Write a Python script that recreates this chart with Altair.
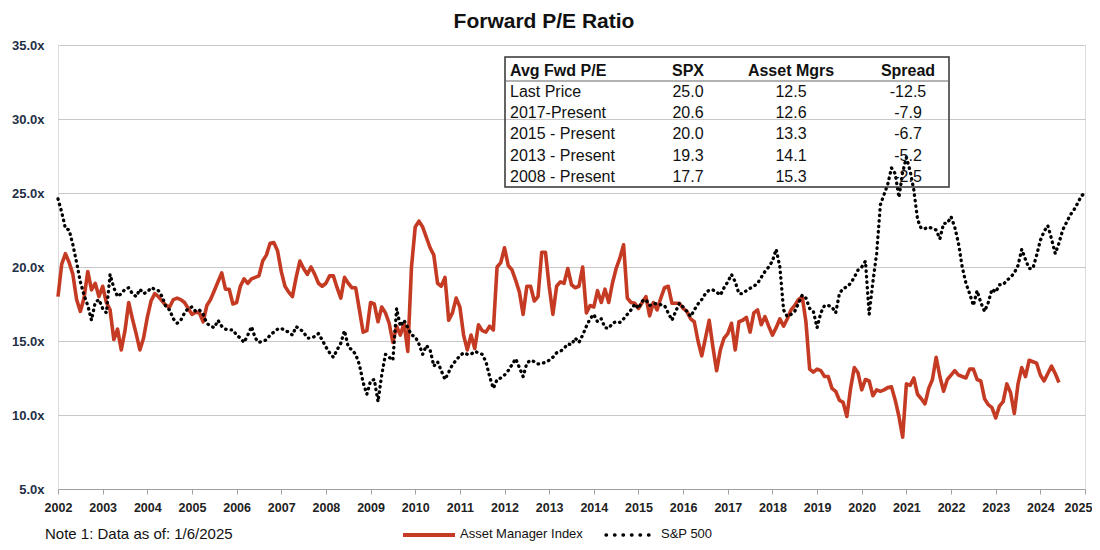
import altair as alt
import pandas as pd

# ---------------- data (monthly) ----------------
first_year = 2002

asset_mgr_2002 = [18.0, 20.2, 20.9, 20.3, 19.5, 17.8, 17.0, 17.9, 19.7, 18.45, 18.9, 18.0]
asset_mgr_2003 = [18.7, 17.6, 17.1, 15.1, 15.8, 14.4, 15.7, 17.6, 16.5, 15.5, 14.4, 15.2]
asset_mgr_2004 = [16.6, 17.7, 18.2, 18.0, 17.7, 17.4, 17.3, 17.8, 17.9, 17.8, 17.6, 17.2]
asset_mgr_2005 = [16.8, 16.95, 16.9, 16.3, 17.4, 17.8, 18.4, 19.0, 19.6, 18.5, 18.5, 17.5]
asset_mgr_2006 = [17.6, 18.7, 19.2, 18.9, 19.2, 19.3, 19.4, 20.4, 20.8, 21.6, 21.65, 21.1]
asset_mgr_2007 = [19.7, 18.7, 18.3, 18.0, 19.3, 20.4, 19.9, 19.5, 20.0, 19.5, 18.9, 18.7]
asset_mgr_2008 = [18.9, 19.4, 19.4, 18.6, 17.9, 19.3, 18.9, 18.6, 18.6, 17.1, 15.6, 15.7]
asset_mgr_2009 = [17.6, 17.5, 16.3, 17.3, 16.9, 16.2, 14.9, 16.0, 15.4, 16.2, 14.3, 20.0]
asset_mgr_2010 = [22.7, 23.1, 22.7, 22.0, 21.3, 20.8, 18.9, 18.7, 19.3, 16.4, 16.9, 17.9]
asset_mgr_2011 = [17.3, 15.4, 14.4, 15.4, 14.5, 16.1, 15.7, 15.6, 16.0, 15.75, 20.0, 20.3]
asset_mgr_2012 = [21.3, 20.1, 19.8, 19.1, 18.3, 16.8, 18.7, 18.7, 17.7, 18.0, 21.0, 21.0]
asset_mgr_2013 = [18.7, 16.8, 18.7, 19.0, 18.9, 19.9, 18.8, 18.6, 18.7, 20.0, 16.9, 17.4]
asset_mgr_2014 = [17.3, 18.4, 17.6, 18.5, 17.6, 18.9, 19.9, 20.6, 21.5, 17.9, 17.6, 17.55]
asset_mgr_2015 = [17.2, 17.6, 18.0, 16.7, 17.6, 17.1, 17.9, 18.6, 18.7, 17.55, 17.55, 17.55]
asset_mgr_2016 = [17.2, 17.0, 16.5, 16.3, 15.0, 14.0, 15.2, 16.4, 14.6, 13.0, 14.4, 15.2]
asset_mgr_2017 = [15.5, 16.2, 14.4, 16.3, 16.4, 16.6, 15.6, 16.9, 17.1, 16.1, 16.65, 16.0]
asset_mgr_2018 = [15.4, 15.9, 16.5, 16.0, 16.5, 17.1, 17.4, 17.8, 18.0, 16.3, 13.1, 12.9]
asset_mgr_2019 = [13.1, 13.0, 12.6, 12.6, 11.8, 11.6, 11.0, 10.85, 9.9, 11.8, 13.2, 12.85]
asset_mgr_2020 = [11.7, 12.4, 12.3, 11.3, 11.7, 11.6, 11.7, 11.85, 11.9, 11.0, 9.9, 8.5]
asset_mgr_2021 = [12.1, 12.0, 12.5, 11.4, 11.1, 10.75, 11.8, 12.4, 13.9, 12.6, 11.6, 12.4]
asset_mgr_2022 = [12.7, 13.0, 12.7, 12.6, 12.5, 13.1, 13.1, 12.4, 12.3, 11.1, 10.7, 10.5]
asset_mgr_2023 = [9.8, 10.6, 10.9, 12.1, 11.5, 10.1, 12.1, 13.2, 12.6, 13.7, 13.6, 13.5]
asset_mgr_2024 = [12.7, 12.3, 12.8, 13.3, 12.8, 12.2]

spx_2002 = [24.6, 23.7, 22.6, 22.5, 21.5, 20.3, 19.0, 18.1, 17.4, 16.4, 17.6, 17.8]
spx_2003 = [17.2, 16.9, 19.5, 18.6, 18.0, 18.2, 18.5, 18.6, 18.2, 18.0, 18.5, 18.2]
spx_2004 = [18.3, 18.6, 18.5, 18.4, 18.0, 17.3, 17.1, 16.5, 16.2, 16.4, 16.9, 17.2]
spx_2005 = [17.3, 17.0, 17.1, 16.8, 16.2, 16.0, 15.9, 16.4, 16.0, 15.8, 15.75, 15.75]
spx_2006 = [15.4, 15.2, 14.9, 15.4, 15.97, 15.2, 14.9, 15.0, 15.07, 15.4, 15.6, 15.8]
spx_2007 = [15.86, 15.7, 15.6, 15.4, 15.97, 15.8, 15.6, 15.2, 15.2, 15.3, 15.5, 15.07]
spx_2008 = [14.6, 14.2, 13.9, 14.4, 14.85, 15.7, 14.6, 14.4, 14.1, 13.4, 12.2, 11.4]
spx_2009 = [12.3, 12.4, 10.9, 12.7, 14.1, 13.9, 13.7, 17.2, 16.0, 16.4, 15.9, 15.4]
spx_2010 = [15.3, 14.8, 14.1, 14.7, 14.4, 13.3, 13.6, 13.0, 12.4, 12.9, 13.4, 13.7]
spx_2011 = [14.0, 14.2, 14.1, 14.1, 14.3, 14.2, 14.1, 13.6, 12.6, 11.8, 12.4, 12.5]
spx_2012 = [12.7, 13.0, 13.4, 13.8, 13.2, 12.6, 13.5, 13.7, 13.6, 13.45, 13.5, 13.55]
spx_2013 = [13.7, 13.9, 14.2, 14.3, 14.5, 14.8, 14.75, 15.2, 14.9, 15.4, 16.0, 16.5]
spx_2014 = [16.8, 16.3, 16.5, 15.9, 15.85, 16.2, 16.3, 16.25, 16.5, 16.8, 17.1, 17.5]
spx_2015 = [17.2, 17.7, 17.8, 17.4, 17.5, 17.55, 17.45, 17.4, 16.9, 16.4, 17.0, 17.55]
spx_2016 = [17.3, 17.0, 16.65, 17.1, 17.5, 17.8, 18.2, 18.45, 18.45, 18.3, 18.1, 18.6]
spx_2017 = [19.0, 19.5, 19.0, 18.2, 18.2, 18.4, 18.56, 18.7, 18.9, 19.3, 19.7, 20.0]
spx_2018 = [20.4, 21.2, 20.0, 17.1, 16.65, 16.8, 17.0, 17.55, 18.1, 17.9, 17.2, 17.0]
spx_2019 = [15.9, 16.9, 17.4, 17.4, 17.3, 16.9, 18.2, 18.55, 18.65, 18.9, 19.3, 19.8]
spx_2020 = [20.0, 20.4, 16.8, 19.0, 20.9, 24.2, 24.9, 25.6, 26.7, 26.3, 24.7, 26.4]
spx_2021 = [27.4, 26.5, 25.2, 23.2, 22.6, 22.6, 22.7, 22.6, 22.5, 21.9, 22.95, 22.95]
spx_2022 = [23.4, 22.7, 21.6, 20.0, 18.9, 18.2, 17.4, 18.4, 17.6, 17.0, 17.6, 18.5]
spx_2023 = [18.3, 18.8, 18.8, 19.1, 19.3, 19.6, 20.1, 21.2, 20.5, 19.9, 19.9, 20.8]
spx_2024 = [21.8, 22.4, 22.8, 21.9, 20.9, 21.6, 22.5, 23.0, 23.5, 23.85, 24.3, 24.8]
spx_2025 = [25.0]

asset_mgr = (asset_mgr_2002 + asset_mgr_2003 + asset_mgr_2004 + asset_mgr_2005 + asset_mgr_2006
             + asset_mgr_2007 + asset_mgr_2008 + asset_mgr_2009 + asset_mgr_2010 + asset_mgr_2011
             + asset_mgr_2012 + asset_mgr_2013 + asset_mgr_2014 + asset_mgr_2015 + asset_mgr_2016
             + asset_mgr_2017 + asset_mgr_2018 + asset_mgr_2019 + asset_mgr_2020 + asset_mgr_2021
             + asset_mgr_2022 + asset_mgr_2023 + asset_mgr_2024)
spx = (spx_2002 + spx_2003 + spx_2004 + spx_2005 + spx_2006 + spx_2007 + spx_2008 + spx_2009
       + spx_2010 + spx_2011 + spx_2012 + spx_2013 + spx_2014 + spx_2015 + spx_2016 + spx_2017
       + spx_2018 + spx_2019 + spx_2020 + spx_2021 + spx_2022 + spx_2023 + spx_2024 + spx_2025)

year_ticks = list(range(2002, 2026))
y_ticks = [5, 10, 15, 20, 25, 30, 35]

# table
table_header = ["Avg Fwd P/E", "SPX", "Asset Mgrs", "Spread"]
table_rows = ["Last Price", "2017-Present", "2015 - Present", "2013 - Present", "2008 - Present"]
table_spx = ["25.0", "20.6", "20.0", "19.3", "17.7"]
table_mgrs = ["12.5", "12.6", "13.3", "14.1", "15.3"]
table_spread = ["-12.5", "-7.9", "-6.7", "-5.2", "-2.5"]

title_text = "Forward P/E Ratio"
note_text = "Note 1: Data as of: 1/6/2025"
legend_names = ["Asset Manager Index", "S&P 500"]

# ---------------- build ----------------
RED = "#C53A22"
W, H = 1027, 444
ARIAL = "Liberation Sans"

df_am = pd.DataFrame({"t": [first_year + i / 12 for i in range(len(asset_mgr))], "v": asset_mgr})
df_spx = pd.DataFrame({"t": [first_year + i / 12 for i in range(len(spx))], "v": spx})

xscale = alt.Scale(domain=[2002, 2025], nice=False, zero=False)
yscale = alt.Scale(domain=[5, 35], nice=False, zero=False)

last_year = year_ticks[-1]
x_axis = alt.Axis(values=year_ticks, format="d", title=None, grid=False,
                  domainColor="#A0A0A0", tickColor="#A0A0A0", tickSize=5,
                  labelFont=ARIAL, labelFontWeight="bold", labelFontSize=12.5,
                  labelColor="#222222", labelPadding=7, labelOverlap=False, labelFlush=False,
                  labelOffset={"condition": {"test": f"datum.value == {last_year}", "value": -7},
                               "value": 0})
y_axis = alt.Axis(values=y_ticks, labelExpr="format(datum.value, '.1f') + 'x'", title=None,
                  grid=True, gridColor="#C8C8C8", gridWidth=1.2, domain=False, ticks=False,
                  labelFont=ARIAL, labelFontWeight="bold", labelFontSize=13,
                  labelColor="#1F2F45", labelPadding=14)

am_line = alt.Chart(df_am).mark_line(color=RED, strokeWidth=3.6, strokeJoin="round").encode(
    x=alt.X("t:Q", scale=xscale, axis=x_axis),
    y=alt.Y("v:Q", scale=yscale, axis=y_axis),
)
spx_line = alt.Chart(df_spx).mark_line(color="black", strokeWidth=3.3, strokeDash=[0.5, 5],
                                       strokeCap="round", strokeJoin="round").encode(
    x=alt.X("t:Q", scale=xscale), y=alt.Y("v:Q", scale=yscale))

one = alt.Data(values=[{}])

def label(text, x, y, size, weight="normal", align="left", font=ARIAL, color="#111111"):
    return alt.Chart(one).mark_text(text=text, align=align, baseline="middle", fontSize=size,
                                    fontWeight=weight, font=font, color=color).encode(
        x=alt.value(x), y=alt.value(y))

layers = [am_line, spx_line]

# title
layers.append(label(title_text, 486, -23, 21, "bold", "center"))

# table box
TX0, TX1, TY0, TY1, HY = 447, 891, 12, 142, 36
layers.append(alt.Chart(one).mark_rect(fillOpacity=0, stroke="#333333", strokeWidth=1.5).encode(
    x=alt.value(TX0), x2=alt.value(TX1), y=alt.value(TY0), y2=alt.value(TY1)))
layers.append(alt.Chart(one).mark_rule(color="#666666", strokeWidth=1).encode(
    x=alt.value(TX0), x2=alt.value(TX1), y=alt.value(HY)))

col_x = [452, 630, 733, 850]
col_align = ["left", "center", "center", "center"]
row_y = [25.5, 46.8, 68.1, 89.4, 110.7, 132.0]
for j, h in enumerate(table_header):
    layers.append(label(h, col_x[j], row_y[0], 16, "bold", col_align[j]))
for i in range(len(table_rows)):
    cells = [table_rows[i], table_spx[i], table_mgrs[i], table_spread[i]]
    for j, c in enumerate(cells):
        layers.append(label(c, col_x[j], row_y[i + 1], 16, "normal", col_align[j]))

# note and legend
BY = 489
layers.append(label(note_text, -13, BY, 15))
layers.append(alt.Chart(one).mark_rule(color=RED, strokeWidth=4).encode(
    x=alt.value(345), x2=alt.value(397), y=alt.value(BY + 1)))
layers.append(label(legend_names[0], 402, BY, 13))
layers.append(alt.Chart(one).mark_rule(color="black", strokeWidth=3.4, strokeDash=[0.5, 8],
                                       strokeCap="round").encode(
    x=alt.value(548), x2=alt.value(598), y=alt.value(BY + 1)))
layers.append(label(legend_names[1], 603, BY, 13))

chart = alt.layer(*layers).properties(
    width=W, height=H,
    autosize=alt.AutoSizeParams(type="none"),
    padding={"left": 50, "top": 37, "right": 7, "bottom": 53},
).configure_view(stroke=None).configure(background="white")

chart.save("out.html", embed_options={"renderer": "svg", "actions": False})
